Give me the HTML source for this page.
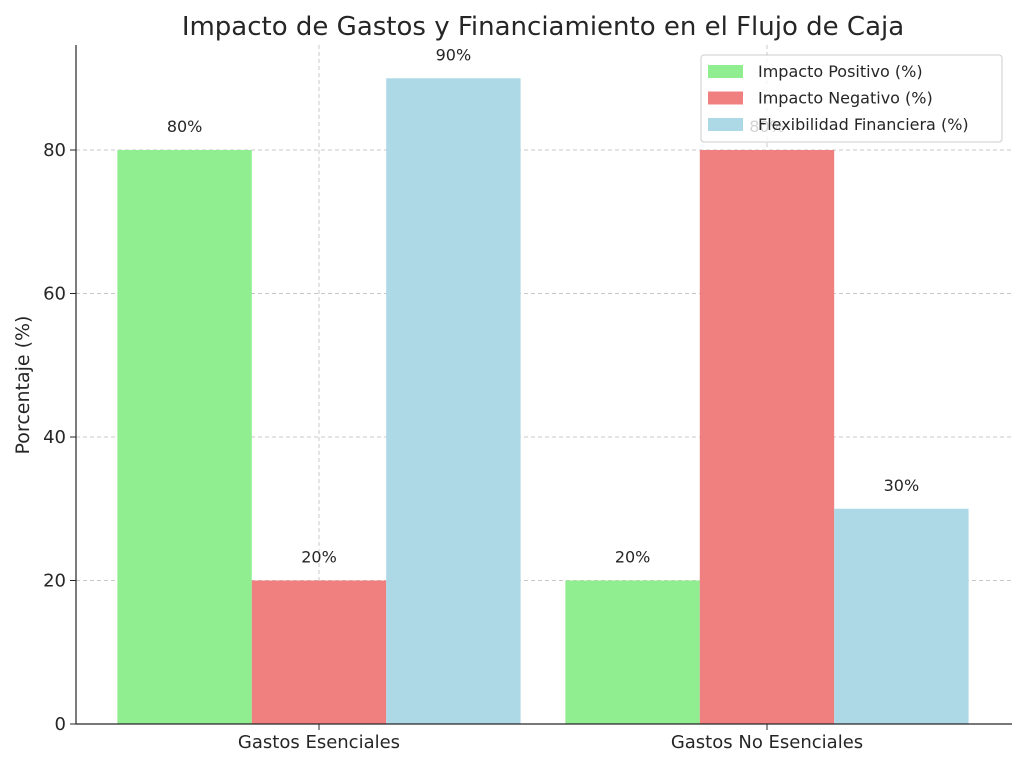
<!DOCTYPE html>
<html><head><meta charset="utf-8"><style>
html,body{margin:0;padding:0;background:#fff;}
svg text{font-family:"DejaVu Sans","Liberation Sans",sans-serif;fill:#262626;}
</style></head><body>
<svg width="1024" height="765" viewBox="0 0 1024 765" xmlns="http://www.w3.org/2000/svg">
<text x="543" y="35" text-anchor="middle" font-size="26">Impacto de Gastos y Financiamiento en el Flujo de Caja</text>
<g id="grid"></g>
<g id="bars"></g>
<g id="labels"></g>
<line x1="76" y1="45" x2="76" y2="724" stroke="#262626" stroke-width="1.2"/>
<line x1="76" y1="724" x2="1012" y2="724" stroke="#262626" stroke-width="1.2"/>
<g id="ticks"></g>
<text transform="translate(29,385) rotate(-90)" text-anchor="middle" font-size="19">Porcentaje (%)</text>
<g>
<rect x="701" y="55" width="301" height="87" rx="3" fill="#fff" fill-opacity="0.8" stroke="#ccc"/>
<g id="legend"></g>
</g>
<script>
const categories=["Gastos Esenciales","Gastos No Esenciales"];
const seriesNames=["Impacto Positivo (%)","Impacto Negativo (%)","Flexibilidad Financiera (%)"];
const positivo=[80,20];
const negativo=[20,80];
const flexibilidad=[90,30];
const yTicks=[0,20,40,60,80];
const colors=["#90ee90","#f08080","#add8e6"];
const series=[positivo,negativo,flexibilidad];
const NS="http://www.w3.org/2000/svg";
const y=v=>724-v*7.175;
const x=v=>319+v*448;
const bw=0.3;
function mk(tag,attrs,parent,text){const e=document.createElementNS(NS,tag);for(const k in attrs)e.setAttribute(k,attrs[k]);if(text!==undefined)e.textContent=text;document.getElementById(parent).appendChild(e);return e;}
yTicks.forEach(t=>{
 const g=mk("line",{x1:76,x2:1012,y1:y(t),y2:y(t),stroke:"#c8c8c8","stroke-dasharray":"4,3","stroke-width":1},"grid");
 
 
 const tk=mk("line",{x1:70,x2:76,y1:y(t),y2:y(t),stroke:"#262626"},"ticks");
 
 
 const tl=mk("text",{x:66,y:y(t)+6,"text-anchor":"end","font-size":18},"ticks",String(t));
 
 
});
categories.forEach((c,i)=>{
 const g=mk("line",{x1:x(i),x2:x(i),y1:45,y2:724,stroke:"#c8c8c8","stroke-dasharray":"4,3"},"grid");
 
 
 const tk=mk("line",{x1:x(i),x2:x(i),y1:724,y2:730,stroke:"#262626"},"ticks");
 
 
 const tl=mk("text",{x:x(i),y:748,"text-anchor":"middle","font-size":18},"ticks",c);
 
 
 series.forEach((s,j)=>{
  const cx=i+(j-1)*bw;
  const r=mk("rect",{x:x(cx-bw/2),y:y(s[i]),width:bw*448,height:y(0)-y(s[i]),fill:colors[j]},"bars");
  
  
  const l=mk("text",{x:x(cx),y:y(s[i])-18,"text-anchor":"middle","font-size":16},"labels",s[i]+"%");
  
  
 });
});
seriesNames.forEach((n,j)=>{
 const yy=71+j*26.5;
 const p=mk("rect",{x:708,y:yy-6,width:35,height:13,fill:colors[j]},"legend");
 
 
 const t=mk("text",{x:758,y:yy+6,"font-size":16},"legend",n);
 
 
});
</script>
</svg>
</body></html>
